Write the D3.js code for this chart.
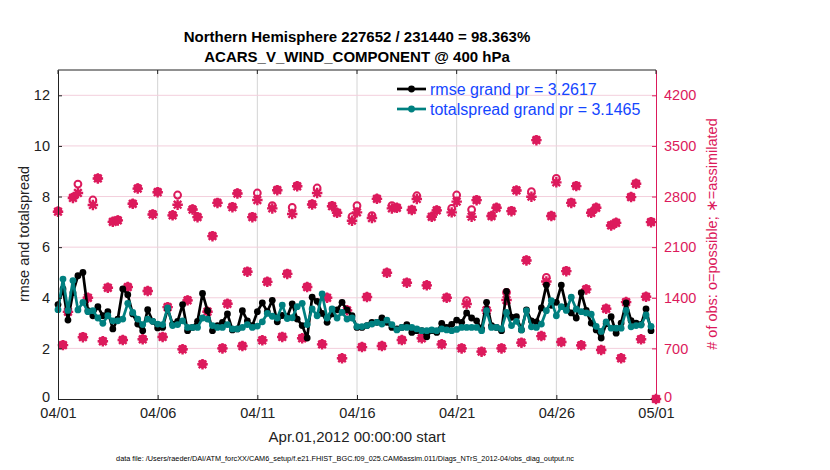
<!DOCTYPE html>
<html><head><meta charset="utf-8">
<script src="https://cdn.jsdelivr.net/npm/d3@7"></script>
<style>body{margin:0;background:#fff}svg{display:block;font-family:"Liberation Sans",Arial,sans-serif}</style>
</head><body><svg id="c" width="830" height="470"></svg>
<script>
// 6-hourly bins starting 04/01 00Z (index i -> i/4 days)
const rmse = [3.73,4.35,3.12,4.2,4.87,5.0,3.49,3.29,3.65,3.29,3.45,2.77,3.16,4.35,4.12,3.36,2.96,2.70,3.53,3.07,
2.81,2.83,3.56,2.96,3.07,3.73,2.70,2.83,3.07,4.17,3.49,2.70,2.90,3.03,3.36,2.73,2.77,3.49,3.09,2.9,
3.45,3.8,3.45,3.9,3.05,3.3,3.25,3.76,3.16,2.9,2.41,4.02,3.86,3.38,3.03,3.36,3.52,3.82,3.52,3.29,
2.83,2.83,2.9,3.03,3.03,3.2,3.03,2.83,2.77,2.83,2.94,2.63,2.70,2.70,2.46,2.70,2.63,2.99,2.83,2.95,
3.12,3.03,3.4,3.2,3.09,2.77,3.82,2.9,2.83,2.70,4.25,3.23,3.25,2.73,3.52,3.09,3.05,3.6,4.5,3.7,
3.82,4.5,3.65,3.4,3.2,4.2,3.5,3.0,2.73,2.41,2.97,3.25,2.6,3.0,3.8,3.1,3.0,2.95,3.56,2.70];
const totalspread = [3.53,4.74,3.5,4.68,3.52,3.82,3.45,3.49,3.2,2.99,3.29,3.09,3.09,3.16,3.78,3.42,3.16,2.94,3.16,3.07,
2.96,2.94,3.6,2.90,2.94,3.09,2.83,2.83,2.83,3.2,3.16,2.90,2.83,2.83,2.94,2.77,2.77,2.83,2.94,2.83,
2.88,3.05,3.38,3.27,3.2,3.71,3.18,3.21,3.65,3.78,2.94,3.56,3.29,4.15,3.2,3.56,3.2,3.42,3.16,3.2,
2.86,2.86,2.9,2.96,3.03,2.96,3.12,2.94,2.73,2.83,2.83,2.83,2.77,2.70,2.70,2.73,2.70,2.77,2.73,2.70,
2.75,2.83,2.83,2.83,2.83,2.70,3.49,2.83,2.83,2.77,3.42,2.9,3.07,2.73,3.49,2.85,2.83,2.96,3.49,3.89,
3.29,3.65,3.5,4.02,3.55,3.45,3.4,3.35,2.87,2.67,3.05,2.8,2.8,2.8,3.5,2.85,2.9,2.92,3.32,2.87];
const nPossible = [2600,750,1210,2790,2973,862,1405,2752,3056,802,1543,2456,2476,820,1553,2705,2918,830,1498,2559,
2867,862,1276,2545,2821,692,1369,2628,2521,484,1212,2258,2719,705,1322,2659,2849,737,1765,2521,
2849,816,1626,2673,2895,862,1737,2650,2950,844,1553,2697,2918,761,1405,2673,2581,567,1231,2521,
2673,723,1415,2535,2774,737,1751,2673,2650,820,1613,2620,2811,844,1577,2525,2614,761,1405,2636,
2821,705,1360,2618,2756,659,1231,2535,2650,705,1474,2604,2890,783,1922,2867,3586,875,1682,2535,
3051,792,1774,2719,2950,747,1521,2581,2650,682,1253,2406,2442,567,1346,2798,2982,830,1419,2452,0];
const nAssimilated = [2590,745,1205,2780,2849,855,1400,2683,3050,798,1538,2450,2470,815,1548,2700,2910,826,1493,2552,
2860,858,1270,2540,2687,688,1364,2620,2515,480,1207,2252,2712,700,1317,2652,2842,732,1760,2515,
2752,812,1620,2636,2888,858,1730,2559,2942,840,1548,2690,2849,756,1400,2666,2575,563,1226,2466,
2581,718,1410,2503,2768,732,1745,2636,2644,815,1608,2614,2766,840,1572,2520,2608,756,1400,2581,
2729,700,1314,2521,2750,655,1226,2530,2644,700,1369,2598,2884,778,1916,2798,3580,870,1626,2530,
2996,788,1768,2712,2944,742,1516,2575,2644,678,1248,2400,2436,563,1340,2792,2976,826,1414,2446,0];
const xTickLabels = ["04/01","04/06","04/11","04/16","04/21","04/26","05/01"];
const xTickDays = [0,5,10,15,20,25,30];
const leftTicks = [0,2,4,6,8,10,12];
const rightTicks = [0,700,1400,2100,2800,3500,4200];
const legendLabels = ["rmse grand pr = 3.2617","totalspread grand pr = 3.1465"];

const svg = d3.select("#c");
const L=58, R=656, T=70, B=399;
const x = d3.scaleLinear().domain([0,30]).range([L,R]);
const yL = d3.scaleLinear().domain([0,13]).range([B,T]);
const yR = d3.scaleLinear().domain([0,4550]).range([B,T]);
const CR = "#dc1a5c", TEAL = "#008080";
const FF = "Liberation Sans, Arial, sans-serif";

// grid
svg.append("g").selectAll("line").data(xTickDays.slice(1,-1)).join("line")
  .attr("x1",d=>x(d)).attr("x2",d=>x(d)).attr("y1",T).attr("y2",B)
  .attr("stroke","#d4d4d4").attr("stroke-width",1);
svg.append("g").selectAll("line").data(rightTicks.slice(1)).join("line")
  .attr("x1",L).attr("x2",R).attr("y1",d=>yR(d)).attr("y2",d=>yR(d))
  .attr("stroke","#f3cfdc").attr("stroke-width",1);

// obs counts
const t = i => i/4;
const gObs = svg.append("g");
gObs.selectAll("circle").data(nPossible).join("circle")
  .attr("cx",(d,i)=>x(t(i))).attr("cy",d=>yR(d)).attr("r",3.4)
  .attr("fill","none").attr("stroke",CR).attr("stroke-width",2);
const star = d3.symbol().type({draw(ctx,s){const r=Math.sqrt(s)/2, q=r*0.72;
  ctx.moveTo(-r,0);ctx.lineTo(r,0);ctx.moveTo(0,-r);ctx.lineTo(0,r);
  ctx.moveTo(-q,-q);ctx.lineTo(q,q);ctx.moveTo(-q,q);ctx.lineTo(q,-q);}}).size(110);
gObs.selectAll("path").data(nAssimilated).join("path")
  .attr("transform",(d,i)=>`translate(${x(t(i))},${yR(d)})`).attr("d",star)
  .attr("fill","none").attr("stroke",CR).attr("stroke-width",2.4);

// series
function series(vals,color){
  const g=svg.append("g");
  g.append("path").datum(vals).attr("fill","none").attr("stroke",color).attr("stroke-width",2.7)
   .attr("stroke-linejoin","round")
   .attr("d",d3.line().x((d,i)=>x(t(i))).y(d=>yL(d)));
  g.selectAll("circle").data(vals).join("circle").attr("cx",(d,i)=>x(t(i))).attr("cy",d=>yL(d))
   .attr("r",3.4).attr("fill",color);
}
series(rmse,"#000");
series(totalspread,TEAL);

// axes
const ax = svg.append("g").attr("transform",`translate(0,${B})`)
  .call(d3.axisBottom(x).tickValues(xTickDays).tickFormat((d,i)=>xTickLabels[i]).tickSizeInner(-4).tickSizeOuter(0).tickPadding(9));
ax.select(".domain").attr("stroke","#222");
ax.selectAll("line").attr("stroke","#222");
ax.selectAll("text").attr("font-size",14.5).attr("fill","#222").attr("font-family",FF);
const al = svg.append("g").attr("transform",`translate(${L},0)`)
  .call(d3.axisLeft(yL).tickValues(leftTicks).tickSizeInner(-4).tickSizeOuter(0).tickPadding(8));
al.select(".domain").attr("stroke","#222");
al.selectAll("line").attr("stroke","#222");
al.selectAll("text").attr("font-size",14.5).attr("fill","#222").attr("font-family",FF);
al.selectAll(".tick").filter(d=>d===0).select("text").attr("dy","0.2em");
const ar = svg.append("g").attr("transform",`translate(${R},0)`)
  .call(d3.axisRight(yR).tickValues(rightTicks).tickFormat(d3.format("d")).tickSizeInner(-4).tickSizeOuter(0).tickPadding(8));
ar.select(".domain").attr("stroke",CR);
ar.selectAll("line").attr("stroke",CR);
ar.selectAll("text").attr("font-size",14.5).attr("fill",CR).attr("font-family",FF);
ar.selectAll(".tick").filter(d=>d===0).select("text").attr("dy","0.2em");
svg.append("line").attr("x1",L).attr("x2",R).attr("y1",T).attr("y2",T).attr("stroke","#222");
// top ticks
svg.append("g").selectAll("line").data(xTickDays).join("line")
  .attr("x1",d=>x(d)).attr("x2",d=>x(d)).attr("y1",T).attr("y2",T+4).attr("stroke","#222");

// legend
const lg = svg.append("g");
[["#000",89],[TEAL,109]].forEach((c,k)=>{
  lg.append("line").attr("x1",397).attr("x2",426).attr("y1",c[1]).attr("y2",c[1]).attr("stroke",c[0]).attr("stroke-width",2.7);
  lg.append("circle").attr("cx",411.5).attr("cy",c[1]).attr("r",3.4).attr("fill",c[0]);
  lg.append("text").attr("x",430).attr("y",c[1]+5.5).attr("font-size",16).attr("fill","#1446ff").text(legendLabels[k]);
});

// titles
svg.append("text").attr("x",357).attr("y",42).attr("text-anchor","middle").attr("font-size",15).attr("font-weight","bold").attr("fill","#000")
  .text("Northern Hemisphere 227652 / 231440 = 98.363%");
svg.append("text").attr("x",357).attr("y",62).attr("text-anchor","middle").attr("font-size",15).attr("font-weight","bold").attr("fill","#000")
  .text("ACARS_V_WIND_COMPONENT @ 400 hPa");
svg.append("text").attr("x",357).attr("y",442).attr("text-anchor","middle").attr("font-size",15).attr("fill","#222")
  .text("Apr.01,2012 00:00:00 start");
svg.append("text").attr("transform","translate(29,234) rotate(-90)").attr("text-anchor","middle").attr("font-size",14.5).attr("fill","#222")
  .text("rmse and totalspread");
svg.append("text").attr("transform","translate(717,234) rotate(-90)").attr("text-anchor","middle").attr("font-size",14.5).attr("fill",CR)
  .text("# of obs: o=possible; \u2217=assimilated");
svg.append("text").attr("x",345).attr("y",461).attr("text-anchor","middle").attr("font-size",7.3).attr("fill","#000")
  .text("data file: /Users/raeder/DAI/ATM_forcXX/CAM6_setup/f.e21.FHIST_BGC.f09_025.CAM6assim.011/Diags_NTrS_2012-04/obs_diag_output.nc");
</script></body></html>
